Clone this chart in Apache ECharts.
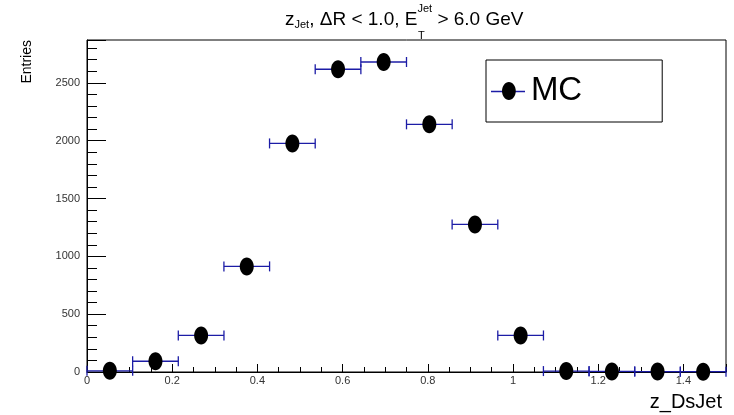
<!DOCTYPE html>
<html>
<head>
<meta charset="utf-8">
<script src="https://cdn.jsdelivr.net/npm/echarts@6/dist/echarts.min.js"></script>
<style>
html,body{margin:0;padding:0;background:#fff;}
#c{width:734px;height:415px;}
</style>
</head>
<body>
<div id="c"></div>
<script>
// ---- data ----
var binCenters = [0.0536, 0.1607, 0.2679, 0.3750, 0.4821, 0.5893, 0.6964, 0.8036, 0.9107, 1.0179, 1.1250, 1.2321, 1.3393, 1.4464];
var binHalfWidth = 0.0536;
var entries = [10, 93, 316, 913, 1976, 2617, 2680, 2141, 1276, 316, 8, 5, 4, 3];
var seriesName = 'MC';
var xTitle = 'z_DsJet';
var yTitle = 'Entries';

var FONT = "'Liberation Sans', Arial, Helvetica, sans-serif";
var BLUE = '#1c1ca6';
var ELLIPSE = 'path://M0,17 C0,7.61 5.82,0 13,0 C20.18,0 26,7.61 26,17 C26,26.39 20.18,34 13,34 C5.82,34 0,26.39 0,17 Z';

var pts = binCenters.map(function (x, i) { return [x, entries[i]]; });

var chart = echarts.init(document.getElementById('c'), null, {renderer: 'canvas'});
chart.setOption({
  animation: false,
  backgroundColor: '#fff',
  textStyle: {fontFamily: FONT},
  title: {
    left: 285, top: 0, padding: 0,
    text: '{m|z}{sub|Jet}{m|, ΔR < 1.0, E}{sup|Jet}{m| > 6.0 GeV}',
    textStyle: {
      fontFamily: FONT, fontWeight: 'normal',
      rich: {
        m: {fontFamily: FONT, fontWeight: 'normal', fontSize: 19, lineHeight: 40, verticalAlign: 'middle', color: '#000'},
        sub: {fontFamily: FONT, fontWeight: 'normal', fontSize: 11, height: 30, lineHeight: 30, verticalAlign: 'bottom', color: '#000'},
        sup: {fontFamily: FONT, fontWeight: 'normal', fontSize: 11, lineHeight: 14, padding: [3, 0, 0, 0], verticalAlign: 'top', color: '#000'}
      }
    }
  },
  grid: {left: 87, right: 8, top: 40, bottom: 43, show: true, borderColor: '#000', borderWidth: 1, backgroundColor: 'transparent'},
  legend: {
    left: 486, top: 60, padding: [13, 80, 13, 16],
    borderColor: '#000', borderWidth: 1,
    itemWidth: 34, itemHeight: 18,
    textStyle: {fontFamily: FONT, fontSize: 33, lineHeight: 36, color: '#000'},
    data: [{name: seriesName, icon: ELLIPSE}]
  },
  xAxis: {
    type: 'value', min: 0, max: 1.5, interval: 0.2,
    name: xTitle, nameLocation: 'end', nameGap: -4,
    nameTextStyle: {fontFamily: FONT, fontSize: 20, color: '#000', align: 'right', verticalAlign: 'top', padding: [20, 0, 0, 0]},
    axisLine: {show: true, onZero: false, lineStyle: {color: '#000', width: 1}},
    axisTick: {show: true, inside: true, length: 8, lineStyle: {color: '#000'}},
    minorTick: {show: true, splitNumber: 4, length: 5, lineStyle: {color: '#000'}},
    splitLine: {show: false},
    axisLabel: {fontFamily: FONT, fontSize: 11, color: '#333', margin: 3, showMaxLabel: false,
      formatter: function (v) { return String(Math.round(v * 10) / 10); }}
  },
  yAxis: {
    type: 'value', min: 0, max: 2870, interval: 500,
    axisLine: {show: true, onZero: false, lineStyle: {color: '#000', width: 1}},
    axisTick: {show: true, inside: true, length: 19, lineStyle: {color: '#000'}},
    minorTick: {show: true, splitNumber: 5, length: 10, lineStyle: {color: '#000'}},
    splitLine: {show: false},
    axisLabel: {fontFamily: FONT, fontSize: 11, color: '#333', margin: 7, showMaxLabel: false,
      formatter: function (v) { return String(v); }}
  },
  graphic: [
    {type: 'text', left: 418, top: 30, style: {text: 'T', fontFamily: FONT, fontSize: 11, fill: '#000'}},
    {type: 'text', x: 27, y: 40, rotation: Math.PI / 2,
      style: {text: yTitle, fontFamily: FONT, fontSize: 14, fill: '#000', align: 'right', verticalAlign: 'middle'}},
    {type: 'line', z: 1, shape: {x1: 491, y1: 91.5, x2: 525, y2: 91.5}, style: {stroke: BLUE, lineWidth: 1.3}}
  ],
  series: [
    {
      type: 'custom', name: 'err', z: 2, clip: false,
      data: pts,
      renderItem: function (params, api) {
        var x = api.value(0), y = api.value(1);
        var l = api.coord([x - binHalfWidth, y]);
        var r = api.coord([x + binHalfWidth, y]);
        var st = {stroke: BLUE, lineWidth: 1.3};
        return {type: 'group', children: [
          {type: 'line', shape: {x1: l[0], y1: l[1], x2: r[0], y2: r[1]}, style: st},
          {type: 'line', shape: {x1: l[0], y1: l[1] - 5, x2: l[0], y2: l[1] + 5}, style: st},
          {type: 'line', shape: {x1: r[0], y1: r[1] - 5, x2: r[0], y2: r[1] + 5}, style: st}
        ]};
      }
    },
    {
      type: 'scatter', name: seriesName, z: 5, clip: false,
      symbol: ELLIPSE, symbolSize: [14, 18], symbolKeepAspect: false,
      itemStyle: {color: '#000', opacity: 1},
      data: pts
    }
  ]
});
</script>
</body>
</html>
